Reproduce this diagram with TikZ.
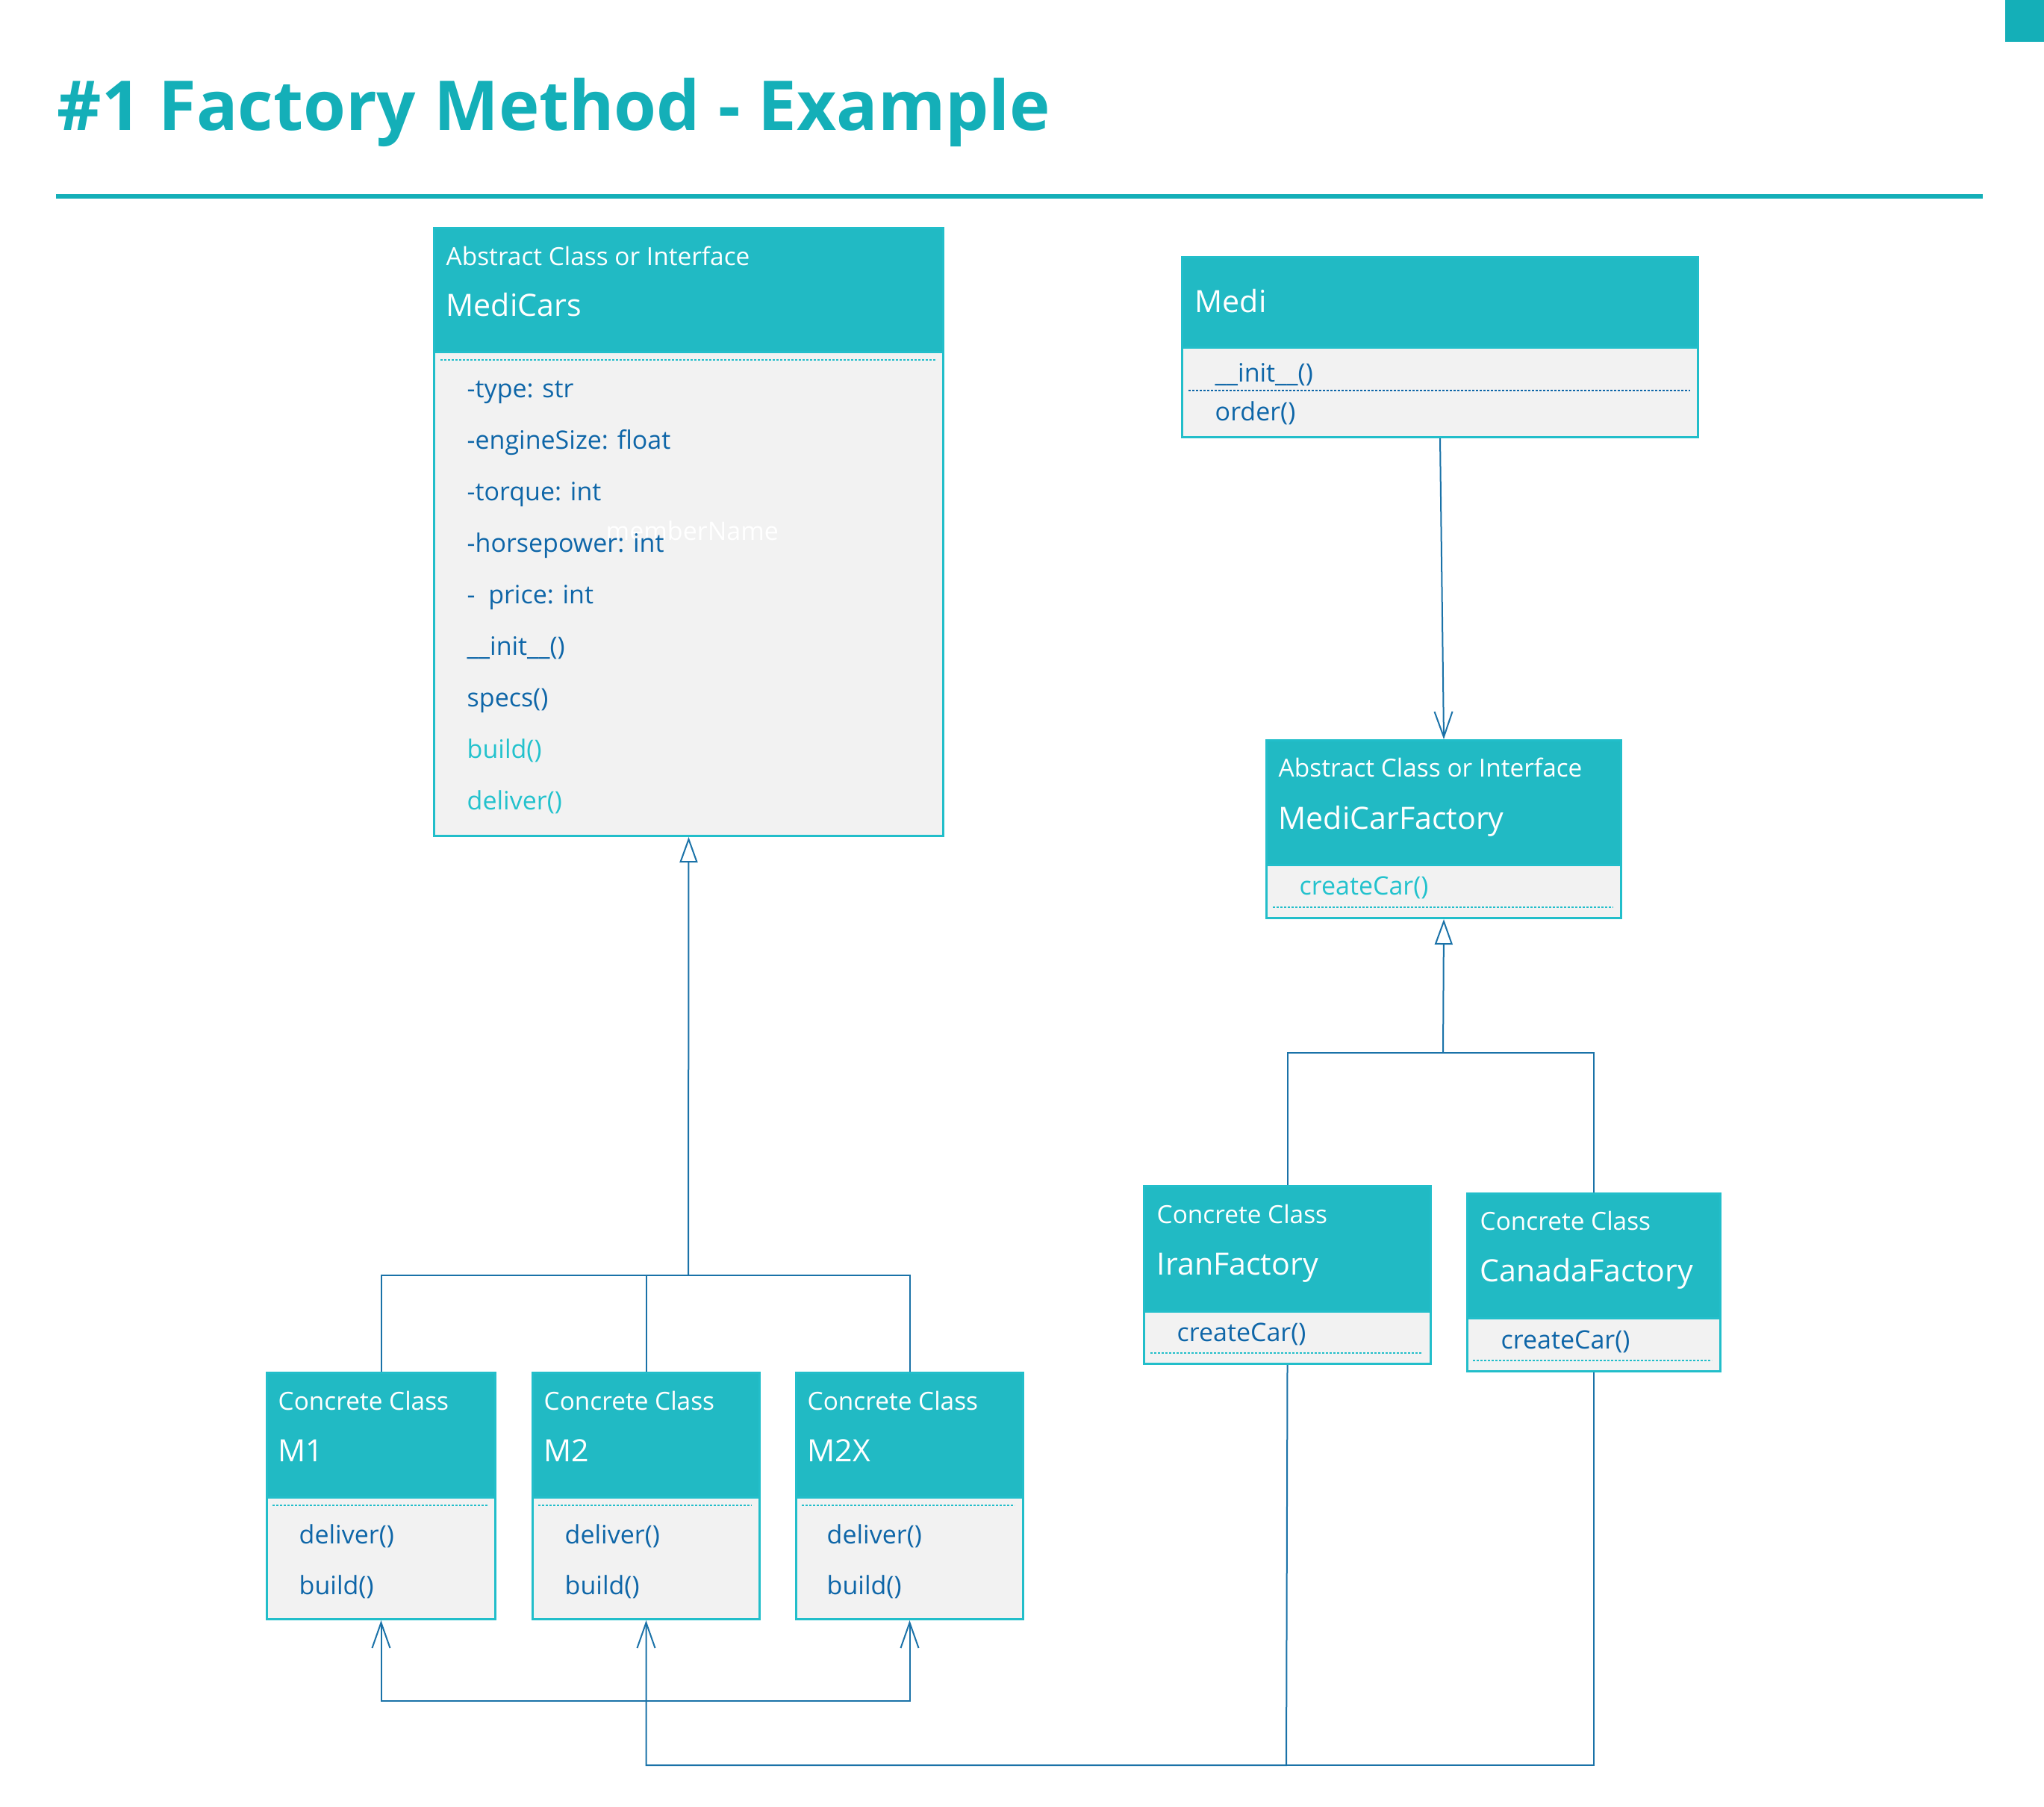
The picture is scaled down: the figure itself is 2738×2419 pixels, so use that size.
\documentclass[tikz,border=0pt]{standalone}
\usepackage{fontspec}
\setmainfont{Open Sans}
\usetikzlibrary{arrows.meta}

\definecolor{titleteal}{HTML}{14AFB8}
\definecolor{boxline}{HTML}{22BECA}
\definecolor{headdark}{HTML}{21BAC4}
\definecolor{headlight}{HTML}{2BD2DC}
\definecolor{bodygray}{HTML}{F2F2F2}
\definecolor{memberblue}{HTML}{0E66A8}
\definecolor{opteal}{HTML}{23C2CD}
\definecolor{linkblue}{HTML}{1A72A8}

\begin{document}
\begin{tikzpicture}[
  x=0.1mm, y=-0.1mm,
  heading/.style={anchor=base west, inner sep=0pt, text=titleteal,
                  font=\fontsize{26.2}{30}\selectfont\bfseries},
  classbox/.style={draw=boxline, line width=0.3mm, fill=bodygray,
                   anchor=north west, inner sep=0pt},
  classhead/.style={classbox, left color=headdark, middle color=headlight,
                    right color=headdark},
  stereo/.style={anchor=base west, inner sep=0pt, text=white,
                 font=\fontsize{9.5}{11}\selectfont},
  cname/.style={stereo, font=\fontsize{11.7}{14}\selectfont},
  member/.style={anchor=base west, inner sep=0pt, text=memberblue,
                 font=\fontsize{9.67}{12}\selectfont},
  abstractop/.style={member, text=opteal},
  sep/.style={draw=boxline, line width=0.2mm, dash pattern=on 0.3mm off 0.2mm},
  link/.style={draw=linkblue, line width=0.2mm},
  gen/.style={link, -{Triangle[open, length=3.4mm, width=2.4mm]}},
  uses/.style={link, -{Straight Barb[length=3.4mm, width=2.4mm]}},
]
  \useasboundingbox (0,0) rectangle (2738,2419);

  % heading
  \fill[titleteal] (2686,0) rectangle (2738,56);
  \node[heading] (title) at (76,174) {\#1 Factory Method - Example};
  \fill[titleteal] (75,260) rectangle (2656,266);

  % MediCars
  \node[classbox, minimum width=68.2mm, minimum height=81.4mm] (medicars) at (580,304) {};
  \node[classhead, minimum width=68.2mm, minimum height=16.6mm] (medicarsHead) at (580,304) {};
  \draw[sep] (590,482) -- (1253,482);
  \node[stereo] (medicarsKind) at (597,355) {Abstract Class or Interface};
  \node[cname] (medicarsName) at (597,423) {MediCars};
  \node[member, text=white] (ghost) at (811,723) {memberName};
  \node[member] (mcType) at (625,532) {-type: str};
  \node[member] (mcEngine) at (625,601) {-engineSize: float};
  \node[member] (mcTorque) at (625,670) {-torque: int};
  \node[member] (mcHorse) at (625,739) {-horsepower: int};
  \node[member] (mcPrice) at (625,808) {-~~price: int};
  \node[member] (mcInit) at (625,877) {\_\_init\_\_()};
  \node[member] (mcSpecs) at (625,946) {specs()};
  \node[abstractop] (mcBuild) at (625,1015) {build()};
  \node[abstractop] (mcDeliver) at (625,1084) {deliver()};

  % Medi
  \node[classbox, minimum width=69.1mm, minimum height=24.1mm] (medi) at (1582,343) {};
  \node[classhead, minimum width=69.1mm, minimum height=12.1mm] (mediHead) at (1582,343) {};
  \node[cname] (mediName) at (1600,418) {Medi};
  \node[member] (mediInit) at (1627,511) {\_\_init\_\_()};
  \draw[sep, draw=memberblue] (1592,523) -- (2264,523);
  \node[member] (mediOrder) at (1627,563) {order()};

  % MediCarFactory
  \node[classbox, minimum width=47.5mm, minimum height=23.8mm] (factory) at (1695,990) {};
  \node[classhead, minimum width=47.5mm, minimum height=16.7mm] (factoryHead) at (1695,990) {};
  \node[stereo] (factoryKind) at (1712,1040) {Abstract Class or Interface};
  \node[cname] (factoryName) at (1712,1110) {MediCarFactory};
  \node[abstractop] (factoryCreate) at (1740,1198) {createCar()};
  \draw[sep] (1705,1215) -- (2161,1215);

  % IranFactory
  \node[classbox, minimum width=38.4mm, minimum height=23.8mm] (iran) at (1531,1587) {};
  \node[classhead, minimum width=38.4mm, minimum height=16.8mm] (iranHead) at (1531,1587) {};
  \node[stereo] (iranKind) at (1549,1638) {Concrete Class};
  \node[cname] (iranName) at (1549,1707) {IranFactory};
  \node[member] (iranCreate) at (1576,1796) {createCar()};
  \draw[sep] (1541,1812) -- (1905,1812);

  % CanadaFactory
  \node[classbox, minimum width=33.9mm, minimum height=23.8mm] (canada) at (1964,1597) {};
  \node[classhead, minimum width=33.9mm, minimum height=16.7mm] (canadaHead) at (1964,1597) {};
  \node[stereo] (canadaKind) at (1982,1647) {Concrete Class};
  \node[cname] (canadaName) at (1982,1716) {CanadaFactory};
  \node[member] (canadaCreate) at (2010,1806) {createCar()};
  \draw[sep] (1973,1822) -- (2293,1822);

  % M1
  \node[classbox, minimum width=30.6mm, minimum height=33mm] (m1) at (356,1837) {};
  \node[classhead, minimum width=30.6mm, minimum height=16.7mm] (m1Head) at (356,1837) {};
  \node[stereo] (m1Kind) at (372,1888) {Concrete Class};
  \node[cname] (m1Name) at (372,1957) {M1};
  \draw[sep] (365,2016) -- (653,2016);
  \node[member] (m1Deliver) at (400,2067) {deliver()};
  \node[member] (m1Build) at (400,2135) {build()};

  % M2
  \node[classbox, minimum width=30.4mm, minimum height=33mm] (m2) at (712,1837) {};
  \node[classhead, minimum width=30.4mm, minimum height=16.7mm] (m2Head) at (712,1837) {};
  \node[stereo] (m2Kind) at (728,1888) {Concrete Class};
  \node[cname] (m2Name) at (728,1957) {M2};
  \draw[sep] (721,2016) -- (1007,2016);
  \node[member] (m2Deliver) at (756,2067) {deliver()};
  \node[member] (m2Build) at (756,2135) {build()};

  % M2X
  \node[classbox, minimum width=30.4mm, minimum height=33mm] (m2x) at (1065,1837) {};
  \node[classhead, minimum width=30.4mm, minimum height=16.7mm] (m2xHead) at (1065,1837) {};
  \node[stereo] (m2xKind) at (1081,1888) {Concrete Class};
  \node[cname] (m2xName) at (1081,1957) {M2X};
  \draw[sep] (1074,2016) -- (1359,2016);
  \node[member] (m2xDeliver) at (1107,2067) {deliver()};
  \node[member] (m2xBuild) at (1107,2135) {build()};

  % inheritance
  \coordinate (carsJoin) at (922,1708);
  \draw[gen] (carsJoin) -- (medicars.south);
  \draw[link] (m1.north) |- (carsJoin) -| (m2x.north);
  \draw[link] (m2.north) -- (m2.north |- carsJoin);

  \coordinate (factJoin) at (1933,1410);
  \draw[gen] (factJoin) -- (factory.south);
  \draw[link] (iran.north) |- (factJoin) -| (canada.north);

  % associations
  \draw[uses] (medi.south) -- (factory.north);

  \coordinate (carsLoop) at (864,2278);
  \draw[link, {Straight Barb[length=3.4mm, width=2.4mm]}-{Straight Barb[length=3.4mm, width=2.4mm]}]
    (m1.south) |- (carsLoop) -| (m2x.south);

  \coordinate (shipJoin) at (1723,2364);
  \draw[uses] (iran.south) -- (shipJoin) -| (m2.south);
  \draw[link] (canada.south) |- (shipJoin);
\end{tikzpicture}
\end{document}
